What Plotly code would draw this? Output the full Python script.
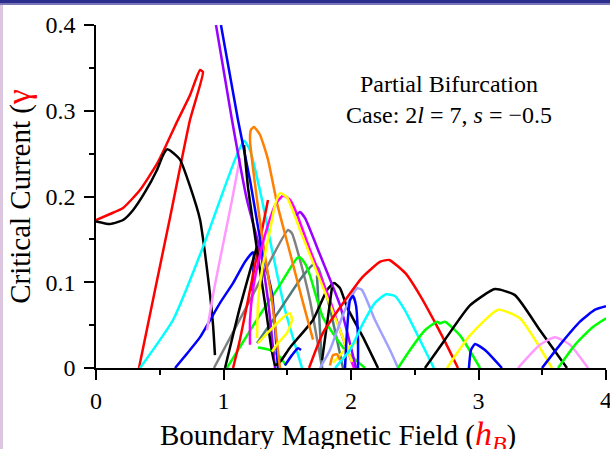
import plotly.graph_objects as go

# ---------------- data ----------------
red_loop_x = [0, 0.110, 0.212, 0.345, 0.478, 0.557, 0.635, 0.737, 0.816, 0.839, 0.737, 0.580, 0.463, 0.337]
red_loop_y = [0.1726, 0.1796, 0.1866, 0.2076, 0.2380, 0.2620, 0.2870, 0.3180, 0.3475, 0.3452, 0.2892, 0.1749, 0.0910, 0.0]

black1_x = [0, 0.110, 0.212, 0.290, 0.384, 0.478, 0.525, 0.557, 0.596, 0.659, 0.737, 0.816, 0.855, 0.895, 0.918, 0.933]
black1_y = [0.171, 0.168, 0.1726, 0.184, 0.205, 0.231, 0.248, 0.255, 0.252, 0.243, 0.212, 0.173, 0.134, 0.085, 0.050, 0.015]

cyan1_x = [0.345, 0.604, 0.839, 0.973, 1.090, 1.161, 1.208, 1.302, 1.380, 1.482, 1.616]
cyan1_y = [0.0, 0.056, 0.141, 0.196, 0.243, 0.265, 0.254, 0.196, 0.138, 0.068, 0.0]

blue1_x = [0.620, 0.737, 0.816, 0.973, 1.075, 1.169, 1.231, 1.225]
blue1_y = [0.0, 0.021, 0.036, 0.076, 0.099, 0.124, 0.135, 0.090]

pink1_x = [0.871, 0.925, 0.988, 1.067, 1.129]
pink1_y = [0.044, 0.091, 0.138, 0.196, 0.245]

purple1_x = [0.941, 1.067, 1.184, 1.286, 1.349, 1.404]
purple1_y = [0.400, 0.289, 0.196, 0.138, 0.079, 0.0]

blue2_x = [0.980, 1.114, 1.208, 1.302, 1.380, 1.427]
blue2_y = [0.400, 0.289, 0.219, 0.138, 0.087, 0.0]

black2_x = [1.161, 1.192, 1.263, 1.333, 1.404, 1.443, 1.522, 1.702, 1.812, 1.867, 1.914, 1.969, 2.094, 2.212]
black2_y = [0.260, 0.211, 0.138, 0.068, 0.0035, 0.007, 0.024, 0.056, 0.091, 0.099, 0.093, 0.071, 0.036, 0.0]

black3_x = [1.012, 1.129, 1.247, 1.263]
black3_y = [0.0, 0.071, 0.134, 0.142]

black4_x = [1.773, 1.851]
black4_y = [0.009, 0.094]

orange1_x = [1.443, 1.380, 1.318, 1.263, 1.208, 1.216, 1.239, 1.286, 1.349, 1.420, 1.522, 1.624, 1.702]
orange1_y = [0.0, 0.079, 0.138, 0.196, 0.266, 0.278, 0.281, 0.272, 0.243, 0.192, 0.134, 0.076, 0.033]

yellow1_x = [1.263, 1.271, 1.302, 1.365, 1.404, 1.443, 1.498, 1.600, 1.780, 1.914, 2.008]
yellow1_y = [0.035, 0.076, 0.114, 0.161, 0.190, 0.204, 0.199, 0.161, 0.094, 0.044, 0.007]

yellow_loop_x = [1.271, 1.365, 1.467, 1.522, 1.537, 1.498, 1.427, 1.380]
yellow_loop_y = [0.029, 0.044, 0.059, 0.064, 0.056, 0.041, 0.029, 0.019]

yellow2_x = [1.859, 1.953, 2.071]
yellow2_y = [0.006, 0.021, 0.033]

magenta1_x = [1.208, 1.208, 1.231, 1.286, 1.349, 1.412, 1.467, 1.522, 1.569, 1.678, 1.835, 1.914, 2.024]
magenta1_y = [0.027, 0.056, 0.091, 0.132, 0.167, 0.192, 0.201, 0.196, 0.182, 0.138, 0.079, 0.044, 0.0]

purple2_x = [1.569, 1.600, 1.639, 1.757, 1.914, 2.039]
purple2_y = [0.178, 0.182, 0.175, 0.132, 0.073, 0.0]

red2_x = [1.075, 1.129, 1.208, 1.286, 1.349]
red2_y = [0.0, 0.033, 0.091, 0.149, 0.196]

gray1_x = [0.925, 1.208, 1.506, 1.537, 1.600, 1.678, 1.773]
gray1_y = [0.0, 0.079, 0.161, 0.157, 0.126, 0.079, 0.0]

slate1_x = [1.263, 1.443, 1.600, 1.702, 1.741, 1.812, 1.890, 1.937]
slate1_y = [0.029, 0.068, 0.103, 0.120, 0.117, 0.083, 0.033, 0.0]

slate2_x = [1.733, 1.773]
slate2_y = [0.108, 0.0]

green1_x = [1.027, 1.286, 1.443, 1.576, 1.600, 1.639, 1.678, 1.780, 1.953, 2.110]
green1_y = [0.0, 0.062, 0.097, 0.128, 0.129, 0.122, 0.108, 0.059, 0.021, 0.0]

green_loop_x = [1.271, 1.365, 1.443, 1.490]
green_loop_y = [0.024, 0.021, 0.013, 0.003]

blue3_x = [1.482, 1.537, 1.584, 1.608]
blue3_y = [0.003, 0.015, 0.023, 0.021]

blue4_x = [1.953, 1.969, 1.992, 2.016, 2.039, 2.055, 2.055]
blue4_y = [0.0, 0.044, 0.079, 0.084, 0.073, 0.033, 0.0]

lavender1_x = [1.757, 1.835, 1.953, 2.047, 2.086, 2.188, 2.306, 2.369]
lavender1_y = [0.0, 0.021, 0.068, 0.093, 0.091, 0.056, 0.021, 0.0]

orange2_x = [1.835, 1.859, 1.890, 1.914]
orange2_y = [0.003, 0.015, 0.016, 0.009]

red3_x = [1.671, 1.780, 1.940, 2.090, 2.230, 2.300, 2.430, 2.540, 2.670, 2.750, 2.839]
red3_y = [0.0, 0.041, 0.076, 0.106, 0.124, 0.126, 0.110, 0.085, 0.050, 0.027, 0.0]

cyan2_x = [1.875, 1.992, 2.094, 2.188, 2.275, 2.345, 2.420, 2.540, 2.650]
cyan2_y = [0.0, 0.021, 0.052, 0.076, 0.086, 0.084, 0.068, 0.033, 0.0]

green2_x = [2.369, 2.463, 2.580, 2.675, 2.698, 2.737, 2.855, 3.012]
green2_y = [0.0, 0.021, 0.044, 0.054, 0.052, 0.054, 0.038, 0.0]

black5_x = [2.580, 2.737, 2.933, 3.129, 3.286, 3.482, 3.694]
black5_y = [0.0, 0.033, 0.073, 0.092, 0.085, 0.044, 0.0]

yellow3_x = [2.753, 2.933, 3.153, 3.325, 3.576]
yellow3_y = [0.0, 0.038, 0.068, 0.058, 0.0]

blue5_x = [2.925, 2.941, 2.973, 3.051, 3.184]
blue5_y = [0.0, 0.021, 0.028, 0.021, 0.0]

pink2_x = [3.310, 3.482, 3.600, 3.718, 3.859]
pink2_y = [0.0, 0.027, 0.036, 0.027, 0.0]

blue6_x = [3.498, 3.639, 3.796, 3.914, 4.0]
blue6_y = [0.0, 0.027, 0.054, 0.068, 0.072]

green3_x = [3.624, 3.757, 3.890, 4.0]
green3_y = [0.0, 0.027, 0.047, 0.058]

x_tick_vals = [0, 1, 2, 3, 4]
x_tick_text = ["0", "1", "2", "3", "4"]
y_tick_vals = [0, 0.1, 0.2, 0.3, 0.4]
y_tick_text = ["0", "0.1", "0.2", "0.3", "0.4"]

# ---------------- styles ----------------
RED, BLACK, CYAN, BLUE = "#ff0000", "#000000", "#00ffff", "#0000ff"
PINK, PURPLE, ORANGE, YELLOW = "#ff99ff", "#9900ff", "#ff8000", "#ffff00"
MAGENTA, GRAY, SLATE, GREEN, LAV = "#ff00ff", "#808080", "#4f7b7b", "#00ff00", "#a0a0ff"

curves = [
    (red_loop_x, red_loop_y, RED), (black1_x, black1_y, BLACK),
    (cyan1_x, cyan1_y, CYAN), (blue1_x, blue1_y, BLUE), (pink1_x, pink1_y, PINK),
    (gray1_x, gray1_y, GRAY), (slate1_x, slate1_y, SLATE), (slate2_x, slate2_y, SLATE),
    (green1_x, green1_y, GREEN), (green_loop_x, green_loop_y, GREEN),
    (red2_x, red2_y, RED), (black3_x, black3_y, BLACK),
    (purple1_x, purple1_y, PURPLE), (blue2_x, blue2_y, BLUE), (black2_x, black2_y, BLACK),
    (orange1_x, orange1_y, ORANGE), (magenta1_x, magenta1_y, MAGENTA),
    (purple2_x, purple2_y, PURPLE), (yellow1_x, yellow1_y, YELLOW),
    (yellow_loop_x, yellow_loop_y, YELLOW), (yellow2_x, yellow2_y, YELLOW),
    (blue3_x, blue3_y, BLUE), (black4_x, black4_y, BLACK),
    (lavender1_x, lavender1_y, LAV), (blue4_x, blue4_y, BLUE), (orange2_x, orange2_y, ORANGE),
    (red3_x, red3_y, RED), (cyan2_x, cyan2_y, CYAN), (green2_x, green2_y, GREEN),
    (black5_x, black5_y, BLACK), (yellow3_x, yellow3_y, YELLOW), (blue5_x, blue5_y, BLUE),
    (pink2_x, pink2_y, PINK), (blue6_x, blue6_y, BLUE), (green3_x, green3_y, GREEN),
]

fig = go.Figure()
for xs, ys, col in curves:
    fig.add_trace(go.Scatter(x=xs, y=ys, mode="lines",
                             line=dict(color=col, width=2.5, shape="spline", smoothing=0.5),
                             showlegend=False, hoverinfo="skip"))

FONT = "Liberation Serif, Times New Roman, serif"
fig.update_layout(
    width=610, height=449,
    margin=dict(l=96, r=4, t=25, b=81),
    paper_bgcolor="white", plot_bgcolor="white",
    font=dict(family=FONT, color="black", size=24),
    showlegend=False,
    xaxis=dict(range=[0, 4], tickvals=x_tick_vals, ticktext=x_tick_text,
               showgrid=False, zeroline=False, showline=True, linecolor="black", linewidth=1.5,
               ticks="outside", ticklen=10, tickwidth=1.5, tickcolor="black",
               minor=dict(dtick=0.5, ticks="outside", ticklen=5, tickwidth=1.5, tickcolor="black"),
               tickfont=dict(size=24, family=FONT)),
    yaxis=dict(range=[0, 0.4], tickvals=y_tick_vals, ticktext=y_tick_text,
               showgrid=False, zeroline=False, showline=True, linecolor="black", linewidth=1.5,
               ticks="outside", ticklen=10, tickwidth=1.5, tickcolor="black",
               minor=dict(dtick=0.05, ticks="outside", ticklen=5, tickwidth=1.5, tickcolor="black"),
               tickfont=dict(size=24, family=FONT), ticklabelstandoff=4,
               title=dict(text="Critical Current (<span style='color:red;font-size:34px'>γ</span>",
                          font=dict(size=29, family=FONT), standoff=6)),
    annotations=[
        dict(text="Partial Bifurcation<br>Case: 2<i>l</i> = 7, <i>s</i> = −0.5",
             xref="paper", yref="paper", x=0.692, y=0.783,
             xanchor="center", yanchor="middle", showarrow=False, align="center",
             font=dict(size=24, family=FONT, color="black")),
        dict(text="Boundary Magnetic Field (<span style='color:red;font-size:34px'><i>h</i><sub><i>B</i></sub></span>)",
             xref="paper", yref="paper", x=0.4745, y=-0.199,
             xanchor="center", yanchor="middle", showarrow=False,
             font=dict(size=29, family=FONT, color="black")),
        # last x tick label, which sits on the window edge
        dict(text=x_tick_text[-1], xref="x", yref="paper", x=x_tick_vals[-1], y=-0.093,
             xanchor="center", yanchor="middle", showarrow=False,
             font=dict(size=24, family=FONT, color="black")),
    ],
    shapes=[
        dict(type="rect", xref="paper", yref="paper", x0=-0.19, x1=1.01, y0=1.0641, y1=1.08,
             fillcolor="#2b2e8c", line=dict(width=0), layer="above"),
        dict(type="rect", xref="paper", yref="paper", x0=-0.19, x1=1.01, y0=1.0583, y1=1.0641,
             fillcolor="#7a76b8", line=dict(width=0), layer="above"),
        dict(type="rect", xref="paper", yref="paper", x0=-0.19, x1=-0.1824, y0=-0.24, y1=1.0583,
             fillcolor="#dcc6e0", line=dict(width=0), layer="above"),
    ],
)

fig.write_html("out.html", config={"displayModeBar": False, "responsive": False},
               post_script="document.documentElement.style.overflow='hidden';"
                           "document.body.style.overflow='hidden';"
                           "document.body.style.margin='0';")
